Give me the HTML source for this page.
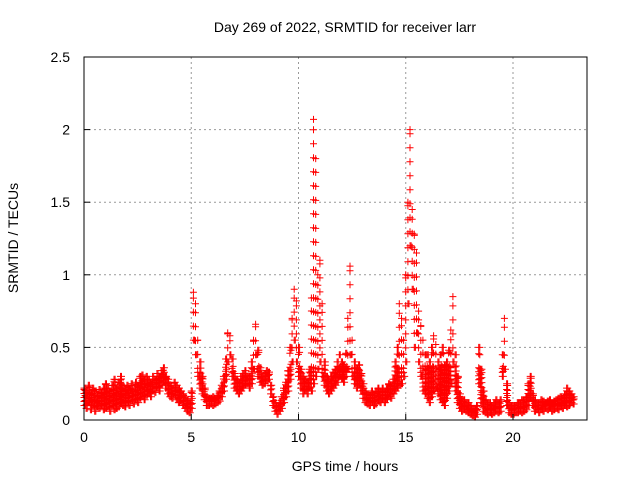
<!DOCTYPE html>
<html><head><meta charset="utf-8"><style>
body{margin:0;background:#fff;font-family:"Liberation Sans",sans-serif}
svg text{font-family:"Liberation Sans",sans-serif;font-size:14px;fill:#000}
</style></head><body>
<svg id="chart" width="640" height="480" xmlns="http://www.w3.org/2000/svg">
<rect width="640" height="480" fill="#fff"/>
<text x="345" y="32" text-anchor="middle">Day 269 of 2022, SRMTID for receiver larr</text>
<text x="345" y="471" text-anchor="middle">GPS time / hours</text>
<text transform="translate(18,238) rotate(-90)" text-anchor="middle">SRMTID / TECUs</text>
<g id="grid"></g><g id="marks"></g><g id="axes"></g>
</svg>
<script>
const xTicks=[0,5,10,15,20];
const yTicks=[0,0.5,1,1.5,2,2.5];
const yTickLabels=["0","0.5","1","1.5","2","2.5"];
const tStart=0, tStep=0.1;
const lowVals=[.10,.08,.12,.07,.10,.06,.09,.08,.10,.07,
.08,.09,.06,.10,.07,.08,.09,.11,.10,.09,
.12,.10,.13,.11,.14,.12,.15,.16,.14,.17,
.18,.16,.20,.19,.22,.20,.24,.26,.22,.18,
.16,.15,.17,.14,.12,.13,.10,.08,.06,.05,
.08,.55,.45,.30,.22,.18,.14,.10,.10,.11,
.10,.11,.12,.13,.16,.20,.28,.40,.45,.30,
.22,.20,.18,.20,.22,.24,.25,.22,.25,.35,
.45,.30,.26,.24,.25,.27,.28,.18,.10,.06,
.04,.06,.08,.12,.16,.20,.28,.40,.55,.40,
.30,.22,.18,.20,.18,.22,.20,.25,.30,.35,
.40,.30,.24,.20,.18,.20,.22,.24,.26,.30,
.28,.26,.30,.35,.45,.30,.25,.22,.24,.20,
.15,.12,.11,.10,.12,.10,.11,.13,.12,.14,
.12,.14,.16,.15,.18,.20,.22,.24,.25,.30,
.40,.80,1.20,.90,.50,.60,.40,.30,.20,.18,
.15,.12,.16,.20,.22,.18,.14,.12,.10,.15,
.20,.25,.40,.20,.12,.08,.06,.07,.06,.05,
.04,.03,.02,.04,.25,.12,.06,.05,.04,.05,
.04,.05,.06,.05,.06,.30,.35,.10,.05,.04,
.04,.05,.05,.06,.05,.06,.07,.10,.15,.10,
.06,.07,.05,.07,.06,.08,.07,.08,.06,.07,
.08,.07,.09,.08,.10,.09,.10,.12,.11];
const highVals=[.22,.20,.24,.18,.22,.20,.17,.21,.19,.22,
.25,.22,.20,.24,.28,.22,.26,.30,.24,.22,
.24,.22,.25,.20,.26,.24,.30,.31,.28,.30,
.28,.26,.30,.28,.32,.30,.34,.36,.30,.28,
.24,.22,.26,.24,.22,.20,.18,.16,.14,.12,
.20,.88,.80,.55,.40,.30,.22,.16,.15,.15,
.16,.15,.17,.20,.24,.30,.42,.60,.58,.42,
.32,.28,.26,.30,.32,.34,.30,.30,.40,.55,
.66,.48,.36,.30,.32,.34,.33,.24,.16,.12,
.10,.12,.16,.22,.26,.34,.50,.70,.90,.82,
.50,.35,.30,.28,.26,.35,.84,2.07,1.80,1.00,
1.10,.80,.40,.30,.28,.30,.33,.35,.40,.45,
.40,.38,.46,.70,1.06,.55,.40,.36,.38,.32,
.25,.20,.18,.17,.20,.18,.20,.22,.20,.22,
.20,.22,.25,.24,.28,.40,.50,.80,.70,.55,
1.00,1.50,2.00,1.45,1.28,1.15,.75,.65,.55,.45,
.45,.40,.50,.58,.52,.40,.45,.50,.38,.40,
.48,.62,.85,.45,.30,.18,.14,.14,.12,.12,
.10,.08,.08,.10,.50,.35,.20,.14,.12,.12,
.10,.12,.14,.12,.14,.45,.70,.25,.12,.10,
.10,.10,.12,.12,.14,.14,.16,.25,.30,.18,
.14,.12,.12,.14,.13,.12,.13,.14,.12,.13,
.14,.15,.16,.15,.18,.22,.20,.18,.16];
const X0=84,X1=587,Y0=420,Y1=57,XMAX=23.45,YMAX=2.5;
const xs=v=>X0+(v/XMAX)*(X1-X0);
const ys=v=>Y0-(v/YMAX)*(Y0-Y1);
const NS="http://www.w3.org/2000/svg";
const grid=document.getElementById('grid'),axes=document.getElementById('axes'),marks=document.getElementById('marks');
function mk(tag,attrs,parent){const e=document.createElementNS(NS,tag);for(const k in attrs)e.setAttribute(k,attrs[k]);parent.appendChild(e);return e;}
xTicks.forEach(t=>{
 const x=xs(t);
 if(t>0){const g=mk('line',{x1:x,x2:x,y1:Y1,y2:Y0,stroke:'#999','stroke-dasharray':'2,3'},grid);
 
 }
 const tk=mk('line',{x1:x,x2:x,y1:Y0,y2:Y0-6,stroke:'#000'},axes);
 
 
 const lb=mk('text',{x:x,y:Y0+22,'text-anchor':'middle'},axes);lb.textContent=t;
 
 
});
yTicks.forEach((t,i)=>{
 const y=ys(t);
 if(t>0&&t<YMAX){const g=mk('line',{x1:X0,x2:X1,y1:y,y2:y,stroke:'#999','stroke-dasharray':'2,3'},grid);
 
 }
 const tk=mk('line',{x1:X0,x2:X0+6,y1:y,y2:y,stroke:'#000'},axes);
 
 
 const lb=mk('text',{x:X0-14,y:y+5,'text-anchor':'end'},axes);lb.textContent=yTickLabels[i];
 
 
});
const fr=mk('rect',{x:X0,y:Y1,width:X1-X0,height:Y0-Y1,fill:'none',stroke:'#000'},axes);


let d='';
function plus(x,y){d+=`M${(x-3.5).toFixed(1)} ${y.toFixed(1)}h7M${x.toFixed(1)} ${(y-3.5).toFixed(1)}v7`;}
const yDense=ys(0.35);
lowVals.forEach((lo,i)=>{
 const hi=highVals[i],t=tStart+i*tStep;
 [0,0.05].forEach((off,k)=>{
  const x=xs(t+off);
  const yl=ys(lo),yh=ys(hi);
  if(k===1&&hi>0.5){plus(x,yl);return;}
  let y=yl;
  while(y>=yh){plus(x,y);y-=(y>yDense)?(k?5:4):14;}
  plus(x,yh);
 });
});
const p=mk('path',{d:d,stroke:'#f00','stroke-width':1,fill:'none'},marks);


</script>
</body></html>
